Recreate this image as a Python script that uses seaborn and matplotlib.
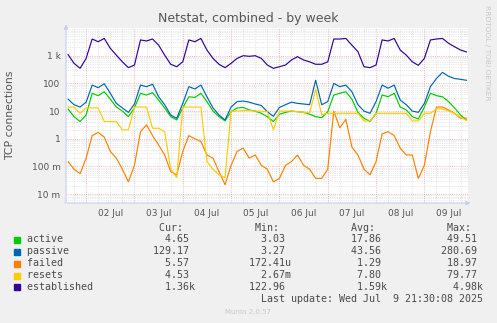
import numpy as np
import pandas as pd
import matplotlib
matplotlib.use('Agg')
import matplotlib.pyplot as plt
from matplotlib.patches import Rectangle
from matplotlib.ticker import NullFormatter, NullLocator
import seaborn as sns

# ---------------- data (3-hour samples) ----------------
times = pd.date_range('2025-07-01 15:00', '2025-07-09 21:00', freq='3h')

established = [1100, 530, 350, 800, 4000, 3200, 4200, 1850, 1050, 600, 370,
               460, 3700, 3400, 4000, 2400, 1050, 490, 400, 600, 3700, 3200,
               4200, 1600, 800, 490, 370, 530, 800, 1000, 950, 1000, 800,
               460, 350, 400, 460, 700, 920, 700, 600, 490, 490, 600,
               4000, 4000, 4200, 2400, 1400, 400, 370, 460, 3700, 3400, 4200,
               1600, 1050, 600, 450, 800, 3700, 4000, 4200, 2800, 2100, 1600,
               1360]
passive = [27, 17, 14, 21, 87, 70, 97, 44, 19, 13, 9,
           18, 87, 76, 93, 33, 17, 7.2, 5.5, 19, 76, 63,
           87, 33, 13, 7.2, 4.8, 14, 22, 23, 21, 18, 16,
           9.5, 6.5, 13.5, 17, 21, 19, 18, 17, 130, 17, 22,
           100, 76, 87, 50, 17, 10, 8.3, 22, 87, 67, 87,
           25, 17, 10, 9, 19, 76, 150, 250, 180, 150, 140,
           129.17]
active = [12, 6.3, 4.2, 7.2, 44, 36, 50, 27, 14, 10, 6.3,
          13, 44, 38, 46, 25, 13, 6.3, 4.8, 13, 33, 31,
          44, 22, 10, 6.3, 4.4, 9.5, 13, 13.5, 11, 10, 8.3,
          6.3, 4.2, 7.7, 9, 10, 9.5, 9, 7.7, 6.3, 5.8, 9.5,
          38, 44, 50, 27, 9, 5.5, 4.2, 8.3, 38, 33, 44,
          14, 11, 6.3, 5.2, 14, 44, 36, 33, 22, 13, 7.2,
          4.65]
failed = [0.15, 0.08, 0.055, 0.2, 1.3, 1.7, 1.15, 0.35, 0.2, 0.08, 0.028,
          0.11, 1.8, 3.2, 1.3, 0.6, 0.26, 0.065, 0.05, 0.35, 1.3, 1.0,
          0.8, 0.26, 0.2, 0.065, 0.022, 0.11, 0.35, 0.46, 0.2, 0.26, 0.11,
          0.08, 0.028, 0.037, 0.11, 0.15, 0.26, 0.11, 0.08, 0.037, 0.037, 0.08,
          10, 2.5, 5, 0.5, 0.26, 0.08, 0.05, 0.15, 1.5, 1.8, 1.3,
          0.46, 0.26, 0.26, 0.037, 0.11, 1.8, 14, 14, 11, 8.3, 5.5,
          5.57]
resets = [14, 14, 8.3, 13, 13, 13, 4.2, 4.2, 4.2, 2.1, 2.1,
          14, 14, 14, 2.4, 2.4, 1.8, 0.08, 0.04, 14, 14, 14,
          14, 0.15, 0.08, 0.05, 0.04, 10, 10, 10.5, 10.5, 10, 10,
          9.5, 2.1, 10, 10, 10, 9.5, 9, 8.7, 60, 7.5, 8.3,
          8.3, 8.3, 8.3, 8.3, 8.3, 4.4, 4.4, 8.3, 8.3, 8.3, 8.3,
          8.3, 8.3, 4.4, 4.4, 8.3, 8.3, 12, 12, 10, 8.3, 6,
          4.53]

series_names = ['active', 'passive', 'failed', 'resets', 'established']
series_colors = ['#00CC00', '#0066B3', '#FF8000', '#FFCC00', '#330099']
cur_vals = ['4.65', '129.17', '5.57', '4.53', '1.36k']
min_vals = ['3.03', '3.27', '172.41u', '2.67m', '122.96']
avg_vals = ['17.86', '43.56', '1.29', '7.80', '1.59k']
max_vals = ['49.51', '280.69', '18.97', '79.77', '4.98k']
ytick_values = [0.01, 0.1, 1, 10, 100, 1000]
ytick_labels = ['10 m', '100 m', '1', '10', '100', '1 k']
day_labels = ['02 Jul', '03 Jul', '04 Jul', '05 Jul', '06 Jul', '07 Jul', '08 Jul', '09 Jul']
title = 'Netstat, combined - by week'
ylabel = 'TCP connections'
last_update = 'Last update: Wed Jul  9 21:30:08 2025'

# ---------------- figure ----------------
sns.set_theme(style='white')
plt.rcParams['font.family'] = ['DejaVu Sans']

W, H = 497, 323
BG = '#F0F0F0'
TXT = '#555555'
fig = plt.figure(figsize=(W / 100, H / 100), dpi=100, facecolor=BG)

def fx(px):
    return px / W

def fy(py):
    return 1 - py / H

L, R, T, B = 66, 468, 28, 203
ax = fig.add_axes([fx(L), fy(B), (R - L) / W, (B - T) / H])
ax.set_facecolor('white')
ax.set_yscale('log')

df = pd.DataFrame({'time': times, 'active': active, 'passive': passive,
                   'failed': failed, 'resets': resets, 'established': established})
long = df.melt(id_vars='time', var_name='series', value_name='value')
sns.lineplot(data=long, x='time', y='value', hue='series', hue_order=series_names,
             palette=dict(zip(series_names, series_colors)), estimator=None,
             errorbar=None, legend=False, ax=ax, linewidth=0.85, zorder=3)

x0 = pd.Timestamp('2025-07-01 14:00')
x1 = pd.Timestamp('2025-07-09 21:40')
ax.set_xlim(x0, x1)
ax.set_ylim(0.0048, 10000)

# grid
dots = (0, (1, 1.6))
for d in range(-3, 4):
    for m in range(2, 10):
        ax.axhline(m * 10.0 ** d, color='#d4d4d4', lw=0.5, ls=dots, zorder=1)
for d in range(-2, 4):
    ax.axhline(10.0 ** d, color='#f0a0a0', lw=0.6, ls=dots, zorder=1.5)
for t in pd.date_range('2025-07-01 18:00', '2025-07-09 18:00', freq='6h'):
    if t.hour == 0:
        ax.axvline(t, color='#f0a0a0', lw=0.6, ls=dots, zorder=1.5)
    else:
        ax.axvline(t, color='#d4d4d4', lw=0.5, ls=dots, zorder=1)

# ticks
noon = pd.date_range('2025-07-02 12:00', periods=8, freq='D')
ax.set_xticks(noon)
ax.set_xticklabels(day_labels)
ax.xaxis.set_minor_locator(NullLocator())
ax.set_yticks(ytick_values)
ax.set_yticklabels(ytick_labels)
ax.yaxis.set_minor_locator(NullLocator())
ax.yaxis.set_minor_formatter(NullFormatter())
ax.tick_params(axis='both', length=0, labelsize=6.5, labelcolor=TXT)
ax.tick_params(axis='x', pad=4)
ax.tick_params(axis='y', pad=4)
ax.set_xlabel('')
ax.set_ylabel('')
for s in ax.spines.values():
    s.set_visible(False)

axis_col = '#c4cef0'
ax.annotate('', xy=(0, 1.036), xytext=(0, -0.01), xycoords='axes fraction',
            arrowprops=dict(arrowstyle='-|>', color=axis_col, lw=0.8, mutation_scale=6),
            annotation_clip=False, zorder=5)
ax.annotate('', xy=(1.013, 0), xytext=(-0.01, 0), xycoords='axes fraction',
            arrowprops=dict(arrowstyle='-|>', color=axis_col, lw=0.8, mutation_scale=6),
            annotation_clip=False, zorder=5)

# texts
fig.text(fx(248.5), fy(18.5), title, ha='center', va='center', fontsize=9, color=TXT)
fig.text(fx(10.5), fy(115), ylabel, rotation=90, ha='center', va='center',
         fontsize=7.8, color=TXT)
fig.text(fx(487), fy(5), 'RRDTOOL / TOBI OETIKER', rotation=270, ha='center',
         va='top', fontsize=5.4, color='#c8c8c8')

# legend table (monospace)
MONO = 'DejaVu Sans Mono'
MS = 7.18
LX = 26.7
LEG = '#4a4a4a'

def place(chars, start, s):
    chars[start:start + len(s)] = list(s)

def fmt_row(label, vals):
    chars = list(label.ljust(82))
    for v, end in zip(vals, [27, 43, 59, 75]):
        if v[-1].isalpha():
            num, suf = v[:-1], v[-1]
        else:
            num, suf = v, ''
        place(chars, end - len(num), num + suf)
    return ''.join(chars).rstrip()

hdr = list(' ' * 80)
for lab, st in zip(['Cur:', 'Min:', 'Avg:', 'Max:'], [22, 38, 54, 70]):
    place(hdr, st, lab)
fig.text(fx(LX), fy(228.3), ''.join(hdr).rstrip(), ha='left', va='center',
         fontsize=MS, family=MONO, color=LEG)

row_y = [239.5, 251.5, 263.5, 275.5, 287.3]
for i, name in enumerate(series_names):
    txt = fmt_row(name, [cur_vals[i], min_vals[i], avg_vals[i], max_vals[i]])
    fig.text(fx(LX), fy(row_y[i]), txt, ha='left', va='center', fontsize=MS,
             family=MONO, color=LEG)
    fig.add_artist(Rectangle((fx(14), fy(row_y[i] + 3)), 6 / W, 6 / H,
                             transform=fig.transFigure, color=series_colors[i]))

fig.text(fx(LX), fy(299.3), ' ' * 39 + last_update, ha='left', va='center',
         fontsize=MS, family=MONO, color=LEG)
fig.text(fx(248), fy(312.3), 'Munin 2.0.57', ha='center', va='center',
         fontsize=5, color='#c8c8c8')

fig.savefig('out.png', dpi=100, facecolor=BG)
